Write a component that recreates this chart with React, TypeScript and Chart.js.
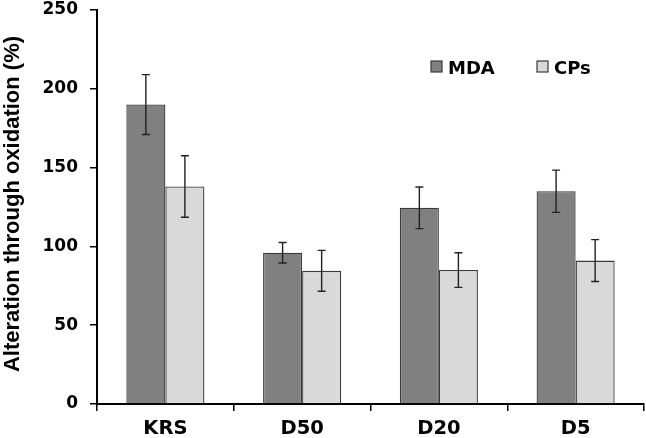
import React, { useEffect, useRef } from "react";
import { Chart, registerables } from "chart.js";

Chart.register(...registerables);

const categories = ["KRS", "D50", "D20", "D5"];
const mdaValues = [190, 96, 124.5, 135];
const mdaErrors = [19, 6.5, 13.2, 13.4];
const cpsValues = [138, 84.5, 85, 91];
const cpsErrors = [19.5, 13, 11, 13.3];
const seriesNames = ["MDA", "CPs"];
const yTicks = [0, 50, 100, 150, 200, 250];
const yTitle = "Alteration through oxidation (%)";

const FONT = "'DejaVu Sans', sans-serif";
const TITLE_FONT = "'Liberation Sans', Arial, sans-serif";
const MDA_COLOR = "#808080";
const CPS_COLOR = "#d9d9d9";
const BORDER = "#3a3a3a";

const errorBarPlugin = {
  id: "errorBars",
  afterDatasetsDraw(chart: any) {
    const ctx = chart.ctx;
    const yScale = chart.scales.y;
    const errs = [mdaErrors, cpsErrors];
    ctx.save();
    ctx.strokeStyle = "#222";
    ctx.lineWidth = 1.4;
    chart.data.datasets.forEach((ds: any, di: number) => {
      const meta = chart.getDatasetMeta(di);
      meta.data.forEach((bar: any, i: number) => {
        const v = ds.data[i];
        const e = errs[di][i];
        const x = bar.x;
        const yTop = yScale.getPixelForValue(v + e);
        const yBot = yScale.getPixelForValue(v - e);
        ctx.beginPath();
        ctx.moveTo(x, yTop);
        ctx.lineTo(x, yBot);
        ctx.moveTo(x - 4, yTop);
        ctx.lineTo(x + 4, yTop);
        ctx.moveTo(x - 4, yBot);
        ctx.lineTo(x + 4, yBot);
        ctx.stroke();
      });
    });
    ctx.restore();
  },
};

const legendPlugin = {
  id: "customLegend",
  afterDraw(chart: any) {
    const ctx = chart.ctx;
    const items = [
      { label: seriesNames[0], color: MDA_COLOR, bx: 431, tx: 448 },
      { label: seriesNames[1], color: CPS_COLOR, bx: 537, tx: 554 },
    ];
    ctx.save();
    items.forEach((it) => {
      ctx.fillStyle = it.color;
      ctx.fillRect(it.bx, 61, 11, 11);
      ctx.strokeStyle = BORDER;
      ctx.lineWidth = 1.2;
      ctx.strokeRect(it.bx, 61, 11, 11);
      ctx.fillStyle = "#000";
      ctx.font = `bold 18px ${FONT}`;
      ctx.textBaseline = "alphabetic";
      ctx.textAlign = "left";
      ctx.fillText(it.label, it.tx, 74);
    });
    // y axis title
    ctx.translate(13, 204);
    ctx.rotate(-Math.PI / 2);
    ctx.font = `bold 22px ${TITLE_FONT}`;
    ctx.textAlign = "center";
    ctx.textBaseline = "middle";
    ctx.fillStyle = "#000";
    ctx.fillText(yTitle, 0, 0);
    ctx.restore();
  },
};

export default function App() {
  const ref = useRef<HTMLCanvasElement | null>(null);
  useEffect(() => {
    if (!ref.current) return;
    const chart = new Chart(ref.current, {
      type: "bar",
      data: {
        labels: categories,
        datasets: [
          {
            label: seriesNames[0],
            data: mdaValues,
            backgroundColor: MDA_COLOR,
            borderColor: BORDER,
            borderWidth: 1.3,
            barPercentage: 1,
            categoryPercentage: 0.571,
          },
          {
            label: seriesNames[1],
            data: cpsValues,
            backgroundColor: CPS_COLOR,
            borderColor: BORDER,
            borderWidth: 1.3,
            barPercentage: 1,
            categoryPercentage: 0.571,
          },
        ],
      },
      options: {
        animation: false,
        responsive: false,
        maintainAspectRatio: false,
        layout: { padding: { top: 10, right: 2, left: 0, bottom: 0 } },
        plugins: {
          legend: { display: false },
          tooltip: { enabled: false },
        },
        scales: {
          x: {
            grid: {
              display: true,
              drawOnChartArea: false,
              drawTicks: true,
              tickLength: 7,
              color: "#000",
              lineWidth: 1.5,
              offset: true,
            },
            border: { display: true, color: "#000", width: 2 },
            ticks: {
              color: "#000",
              font: { family: FONT, size: 19.5, weight: "bold" },
              padding: 6,
            },
            afterFit(scale: any) {
              scale.height = 34;
              scale.paddingLeft = 0;
              scale.paddingRight = 0;
            },
          },
          y: {
            min: 0,
            max: 250,
            afterBuildTicks(scale: any) {
              scale.ticks = yTicks.map((v) => ({ value: v }));
            },
            grid: {
              display: true,
              drawOnChartArea: false,
              drawTicks: true,
              tickLength: 7,
              color: "#000",
              lineWidth: 1.5,
            },
            border: { display: true, color: "#000", width: 2 },
            ticks: {
              color: "#000",
              font: { family: FONT, size: 17, weight: "bold" },
              padding: 12,
            },
            title: { display: false },
            afterFit(scale: any) {
              scale.width = 97;
              scale.paddingTop = 0;
              scale.paddingBottom = 0;
            },
          },
        },
      },
      plugins: [errorBarPlugin, legendPlugin],
    });
    return () => chart.destroy();
  }, []);
  return (
    <div style={{ position: "fixed", left: 0, top: 0, width: 646, height: 438, background: "#fff" }}>
      <canvas ref={ref} width={646} height={438} style={{ width: 646, height: 438 }} />
    </div>
  );
}
